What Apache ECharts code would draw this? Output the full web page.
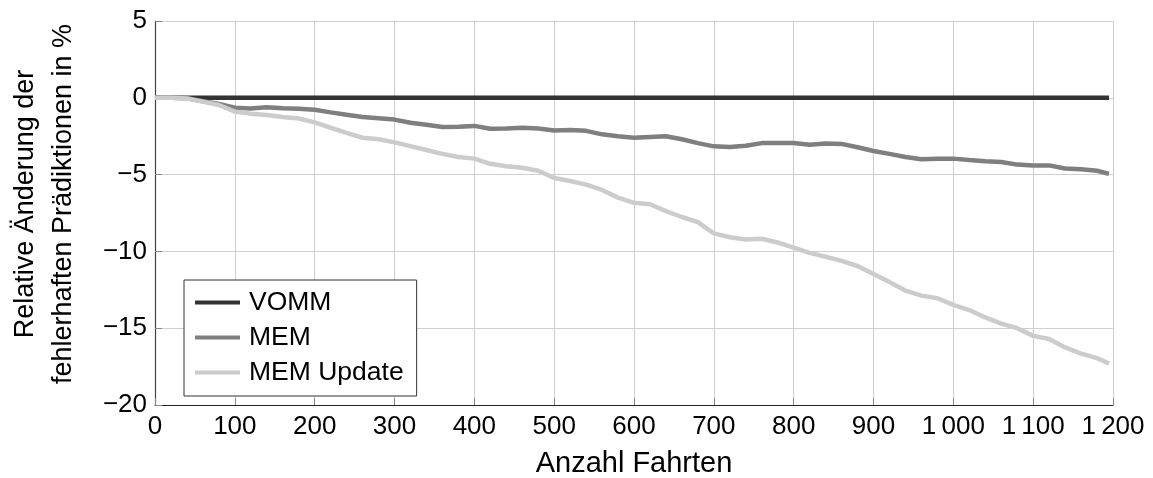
<!DOCTYPE html>
<html>
<head>
<meta charset="utf-8">
<script src="https://cdn.jsdelivr.net/npm/echarts@6/dist/echarts.min.js"></script>
<style>
html,body{margin:0;padding:0;background:#fff;}
#chart{width:1153px;height:478px;}
</style>
</head>
<body>
<div id="chart"></div>
<script>
// Data
const trips = [0,20,40,60,80,100,120,140,160,180,200,220,240,260,280,300,320,340,360,380,400,420,440,460,480,500,520,540,560,580,600,620,640,660,680,700,720,740,760,780,800,820,840,860,880,900,920,940,960,980,1000,1020,1040,1060,1080,1100,1120,1140,1160,1180,1195];
const vomm = [0,0,0,0,0,0,0,0,0,0,0,0,0,0,0,0,0,0,0,0,0,0,0,0,0,0,0,0,0,0,0,0,0,0,0,0,0,0,0,0,0,0,0,0,0,0,0,0,0,0,0,0,0,0,0,0,0,0,0,0,0];
const mem = [0,0,-0.03,-0.22,-0.4,-0.65,-0.7,-0.62,-0.68,-0.72,-0.78,-0.95,-1.1,-1.25,-1.33,-1.42,-1.62,-1.75,-1.9,-1.88,-1.83,-2.02,-2.0,-1.95,-2.0,-2.13,-2.1,-2.15,-2.38,-2.5,-2.6,-2.55,-2.5,-2.7,-2.95,-3.16,-3.2,-3.12,-2.95,-2.95,-2.94,-3.05,-2.98,-3.0,-3.22,-3.46,-3.65,-3.85,-4.0,-3.97,-3.96,-4.05,-4.13,-4.18,-4.35,-4.4,-4.4,-4.6,-4.65,-4.75,-4.95];
const memUpdate = [0,0,-0.05,-0.25,-0.47,-0.9,-1.04,-1.12,-1.25,-1.35,-1.6,-1.95,-2.28,-2.6,-2.7,-2.9,-3.15,-3.4,-3.65,-3.85,-3.96,-4.3,-4.45,-4.55,-4.75,-5.22,-5.42,-5.65,-6.0,-6.5,-6.84,-6.93,-7.38,-7.76,-8.1,-8.83,-9.08,-9.22,-9.18,-9.42,-9.76,-10.1,-10.35,-10.62,-10.95,-11.47,-12.0,-12.55,-12.88,-13.05,-13.48,-13.82,-14.3,-14.7,-15.0,-15.5,-15.7,-16.25,-16.65,-16.95,-17.3];
const seriesNames = ['VOMM','MEM','MEM Update'];
const xTitle = 'Anzahl Fahrten';
const yTitle = 'Relative Änderung der\nfehlerhaften Prädiktionen in %';

const FONT = '"Liberation Sans", Arial, Helvetica, sans-serif';
const colors = ['#333333','#7f7f7f','#cccccc'];
const values = [vomm, mem, memUpdate];

function pairs(ys){ return trips.map((x,i)=>[x, ys[i]]); }

const chart = echarts.init(document.getElementById('chart'), null, {renderer:'canvas'});
chart.setOption({
  animation:false,
  backgroundColor:'#fff',
  textStyle:{fontFamily:FONT},
  grid:{left:155,right:40,top:21,bottom:73,containLabel:false,outerBoundsMode:'none'},
  legend:{
    orient:'vertical', left:184, top:280,
    data:seriesNames,
    icon:'rect', itemWidth:45, itemHeight:4, itemGap:8,
    padding:[9,13,10,11],
    borderColor:'#333', borderWidth:1, backgroundColor:'#fff', borderRadius:0,
    textStyle:{fontFamily:FONT,fontSize:26.5,color:'#000',padding:[0,0,0,4]}
  },
  xAxis:{
    type:'value', min:0, max:1200, interval:100,
    name:xTitle, nameLocation:'middle', nameGap:44,
    nameTextStyle:{fontFamily:FONT,fontSize:29,color:'#000'},
    axisLine:{show:true,onZero:false,lineStyle:{color:'#222',width:1.2}},
    axisTick:{show:true,inside:true,length:7,lineStyle:{color:'#888'}},
    axisLabel:{margin:9,fontFamily:FONT,fontSize:26,color:'#000',
      formatter:v=>{ if(v>=1000){const s=String(v);return s.slice(0,s.length-3)+'\u2009'+s.slice(-3);} return String(v);} },
    splitLine:{show:true,lineStyle:{color:'#cfcfcf',width:1}}
  },
  yAxis:{
    type:'value', min:-20, max:5, interval:5,
    axisLine:{show:true,onZero:false,lineStyle:{color:'#444',width:1.2}},
    axisTick:{show:true,inside:true,length:7,lineStyle:{color:'#888'}},
    axisLabel:{margin:8,fontFamily:FONT,fontSize:26,color:'#000',
      formatter:v=> v<0 ? '\u2212'+Math.abs(v) : String(v)},
    splitLine:{show:true,lineStyle:{color:'#cfcfcf',width:1}}
  },
  graphic:[{
    type:'text', x:45, y:204, rotation:Math.PI/2,
    style:{text:yTitle, fontFamily:FONT, fontSize:27, lineHeight:38, fill:'#000', align:'center', verticalAlign:'middle'}
  }],
  series: seriesNames.map((n,i)=>({
    name:n, type:'line', data:pairs(values[i]), showSymbol:false, symbol:'none',
    lineStyle:{color:colors[i],width:4.5}, itemStyle:{color:colors[i]}, z:2+i
  }))
});
</script>
</body>
</html>
